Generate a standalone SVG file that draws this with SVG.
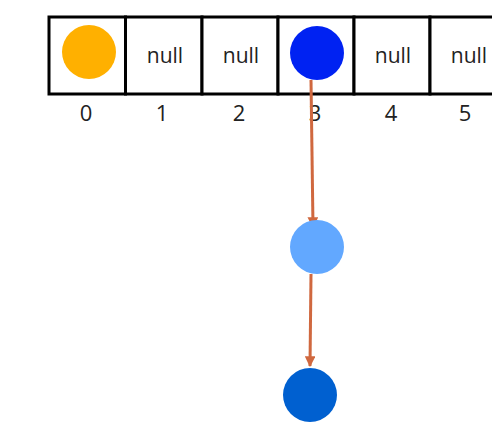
<svg xmlns="http://www.w3.org/2000/svg" width="492" height="443" viewBox="0 0 492 443">
<defs>
<style>
.cell{fill:#fff;stroke:#000;stroke-width:3}
.t{font-family:"Open Sans","Liberation Sans",sans-serif;font-size:21px;fill:#222;text-anchor:middle}
.idx{font-family:"Open Sans","Liberation Sans",sans-serif;font-size:22px;fill:#222;text-anchor:middle}
.edge{stroke:#D0683F;stroke-width:3;fill:none}
</style>
<marker id="ah" viewBox="0 0 10 10" refX="9" refY="5" markerWidth="3.6" markerHeight="3.6" orient="auto" markerUnits="strokeWidth">
<path d="M0,0 L10,5 L0,10 z" fill="#D0683F"/>
</marker>
</defs>
<rect width="492" height="443" fill="#fff"/>
<g id="array">
<rect class="cell" x="49" y="17" width="76.5" height="77"/>
<rect class="cell" x="125.5" y="17" width="76.5" height="77"/>
<rect class="cell" x="202" y="17" width="76" height="77"/>
<rect class="cell" x="278" y="17" width="76" height="77"/>
<rect class="cell" x="354" y="17" width="76" height="77"/>
<rect class="cell" x="430" y="17" width="76" height="77"/>
<text class="t" x="165" y="63">null</text>
<text class="t" x="241" y="63">null</text>
<text class="t" x="393" y="63">null</text>
<text class="t" x="469" y="63">null</text>
<text class="idx" x="86" y="121">0</text>
<text class="idx" x="162" y="121">1</text>
<text class="idx" x="239" y="121">2</text>
<text class="idx" x="315" y="121">3</text>
<text class="idx" x="391" y="121">4</text>
<text class="idx" x="465" y="121">5</text>
</g>
<g id="connectors">
<line class="edge" x1="311" y1="80" x2="313" y2="227" marker-end="url(#ah)"/>
<line class="edge" x1="311" y1="274" x2="310" y2="366" marker-end="url(#ah)"/>
</g>
<g id="node0"><circle cx="89" cy="52" r="27" fill="#FFB000"/></g>
<g id="node3"><circle cx="317" cy="53" r="27" fill="#0022F2"/></g>
<g id="nodeA"><circle cx="317" cy="247" r="27" fill="#62A8FF"/></g>
<g id="nodeB"><circle cx="310" cy="395" r="27" fill="#0060D0"/></g>
</svg>
